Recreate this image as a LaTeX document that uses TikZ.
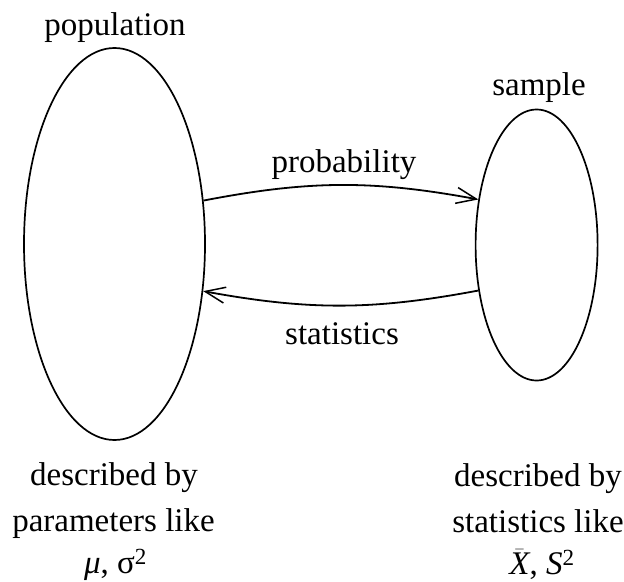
\documentclass[tikz,border=0pt]{standalone}
\usepackage{fontspec}
\setmainfont{Liberation Serif}
\usetikzlibrary{shapes.geometric,arrows.meta}
\begin{document}
\begin{tikzpicture}[x=1bp,y=-1bp,
  blob/.style={draw,ellipse,line width=1.7bp,inner sep=0pt},
  lbl/.style={anchor=base,inner sep=0pt,font=\fontsize{33bp}{40bp}\selectfont},
  conn/.style={line width=1.8bp,-{Straight Barb[length=20bp,width=16bp,line width=1.5bp]}}]
\useasboundingbox (0,0) rectangle (624,582);
\node[blob,minimum width=181bp,minimum height=392bp] (pop) at (114.5,244) {};
\node[blob,minimum width=122bp,minimum height=271bp] (samp) at (536.6,245) {};
\node[lbl] (tpop) at (115,36) {population};
\node[lbl] (tsamp) at (539,96) {sample};
\node[lbl] (tprob) at (344,172.5) {probability};
\node[lbl] (tstat) at (342,344.5) {statistics};
\node[lbl] (l1) at (114,485) {described by};
\node[lbl] (l2) at (113.5,531.5) {parameters like};
\node[lbl] (l3) at (115.5,573) {\textit{μ}, σ\textsuperscript{2}};
\node[lbl] (r1) at (538,486.5) {described by};
\node[lbl] (r2) at (538,532) {statistics like};
\node[lbl] (r3) at (542,574) {$\bar{\textit{X}}$, \textit{S}\textsuperscript{2}};
\draw[conn] (pop.26) to[bend left=10.7] (samp.142);
\draw[conn] (samp.218) to[bend left=10.5] (pop.332);
\end{tikzpicture}
\end{document}
